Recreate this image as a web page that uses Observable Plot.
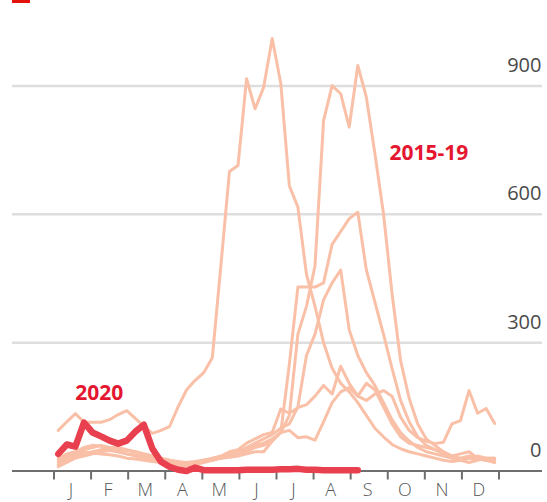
<!DOCTYPE html>
<html><head><meta charset="utf-8">
<script src="https://cdn.jsdelivr.net/npm/d3@7"></script>
<script src="https://cdn.jsdelivr.net/npm/@observablehq/plot@0.6"></script>
<style>
html,body{margin:0;padding:0;background:#fff;}
#wrap{position:relative;width:547px;height:502px;overflow:hidden;}
#tag{position:absolute;left:12px;top:0;width:18px;height:3px;background:#e3120b;z-index:2;}
#wrap svg{position:absolute;left:0;top:0;}
</style></head><body>
<div id="wrap"><div id="tag"></div></div>
<script>
// Month labels and y tick values
const months = ["J","F","M","A","M","J","J","A","S","O","N","D"];
const yTicks = [0, 300, 600, 900];

// Weekly values, 2015-19 (one array per line, weeks 1..52)
const lineA = [95,115,134,114,114,114,120,132,141,123,105,88,95,104,150,190,212,230,265,480,700,714,917,847,897,1011,906,667,617,460,385,300,240,205,185,160,130,100,80,62,52,45,40,35,30,25,22,25,30,28,25,25];
const lineB = [30,40,45,55,60,58,50,45,40,38,35,30,25,20,18,15,20,25,30,35,45,50,65,75,85,90,145,135,148,155,175,200,180,245,205,175,165,180,188,175,126,95,78,70,64,67,110,118,188,135,146,111];
const lineC = [15,25,35,40,45,50,55,55,50,45,40,35,30,25,20,18,20,25,28,30,32,35,40,45,45,70,90,95,78,80,72,115,160,185,195,175,205,190,150,110,80,65,60,55,50,45,35,40,45,30,25,20];
const lineE = [20,30,40,45,42,40,38,35,30,28,25,22,20,18,15,15,18,22,25,30,35,40,50,60,65,75,90,130,320,385,480,819,901,882,804,948,874,742,602,415,258,170,110,75,60,45,35,30,35,30,25,25];
const lineF = [10,20,30,35,40,45,48,45,40,35,30,25,20,15,12,12,15,20,25,30,35,40,45,55,60,70,90,250,430,430,430,440,530,560,590,605,470,395,320,240,165,115,80,60,50,40,30,25,30,35,30,30];
const lineG = [25,35,40,50,55,60,55,50,48,45,40,35,30,25,22,20,22,25,28,32,38,45,55,65,75,85,100,110,150,270,320,400,440,470,330,270,230,200,160,120,90,70,55,45,40,35,30,25,20,25,30,30];

// Weekly values, 2020 (weeks 1..36)
const line2020 = [40,62,57,113,90,81,71,64,71,92,108,52,22,10,3,0,8,2,2,2,2,2,3,3,3,3,4,4,5,3,3,2,2,2,2,2];

// Annotations
const labelText = ["2020", "2015-19"];
const labelWeek = [5.8, 44.3];
const labelValue = [165, 728];

const weeksPerMonth = 52 / 12;
const boundaries = d3.range(13).map(i => 0.5 + i * weeksPerMonth);
const monthCenters = months.map((m, i) => 0.5 + (i + 0.5) * weeksPerMonth);

const past = [lineA, lineB, lineC, lineE, lineF, lineG].flatMap((arr, k) =>
  arr.map((v, i) => ({series: "s" + k, week: i + 1, value: v})));
const current = line2020.map((v, i) => ({week: i + 1, value: v}));
const labels = labelText.map((t, i) => ({text: t, week: labelWeek[i], value: labelValue[i]}));

const pxPerWeek = 445 / 52;
const chart = Plot.plot({
  width: 547,
  height: 502,
  marginTop: 0,
  marginBottom: 31.5,
  marginLeft: 12,
  marginRight: 5,
  x: {domain: [0.5 - 41.5 / pxPerWeek, 52.5 + 43.5 / pxPerWeek], axis: null},
  y: {domain: [0, 1100], axis: null},
  style: {fontFamily: "'Open Sans', sans-serif", background: "transparent", overflow: "visible"},
  marks: [
    Plot.ruleY(yTicks.filter(d => d > 0), {stroke: "#dedede", strokeWidth: 2.5}),
    Plot.text(yTicks, {y: d => d, text: d => String(d), frameAnchor: "right", textAnchor: "end", lineAnchor: "bottom", dx: -1, dy: -14, fontSize: 20, fill: "#4a4a4a"}),
    Plot.line(past, {x: "week", y: "value", z: "series", stroke: "#f9c0a7", strokeWidth: 3}),
    Plot.ruleY([0], {stroke: "#6e6e6e", strokeWidth: 2}),
    Plot.ruleX(boundaries, {y1: 0, y2: -9 * 1100 / 470.5, stroke: "#6e6e6e", strokeWidth: 2}),
    Plot.text(months, {x: (d, i) => monthCenters[i], text: d => d, frameAnchor: "bottom", lineAnchor: "bottom", dy: 24.5, dx: -1.5, fontSize: 18, fill: "#555", fontWeight: 300}),
    Plot.line(current, {x: "week", y: "value", stroke: "#e8404f", strokeWidth: 6.5}),
    Plot.text(labels, {x: "week", y: "value", text: "text", lineAnchor: "bottom", fontSize: 21, fontWeight: "bold", fill: "#e5162f"})
  ]
});
document.getElementById("wrap").appendChild(chart);
</script>
</body></html>
